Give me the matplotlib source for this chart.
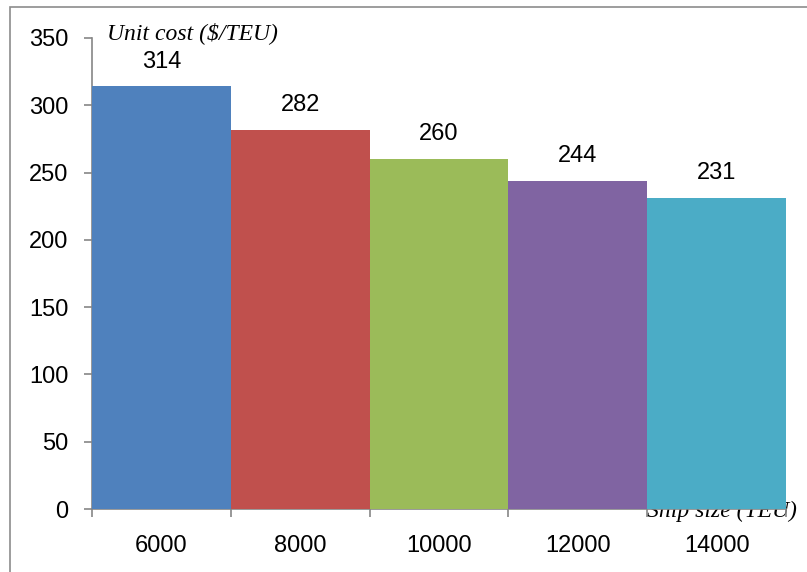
import matplotlib
matplotlib.use("Agg")
import matplotlib.pyplot as plt
from matplotlib.patches import Rectangle

categories = ["6000", "8000", "10000", "12000", "14000"]
values = [314, 282, 260, 244, 231]
colors = ["#4F81BD", "#C0504D", "#9BBB59", "#8064A2", "#4BACC6"]
yticks = [0, 50, 100, 150, 200, 250, 300, 350]

W, H = 807, 572
fig = plt.figure(figsize=(W / 100, H / 100), dpi=100)
plt.rcParams['font.family'] = ['Liberation Sans', 'DejaVu Sans']
FS = 17

# outer chart frame
fig.patches.append(Rectangle((10 / W, -0.1), 1.2, (H - 7) / H + 0.1, transform=fig.transFigure,
                             fill=False, edgecolor="#8C8C8C", linewidth=1.2))

ax = fig.add_axes([92 / W, (H - 509) / H, (786 - 92) / W, (509 - 38) / H])
ax.set_facecolor("none")
x = list(range(len(categories)))
ax.bar(x, values, width=1.0, color=colors, zorder=3)
ax.set_xlim(-0.5, len(categories) - 0.5)
ax.set_ylim(0, 350)

for xi, v in zip(x, values):
    ax.annotate(str(v), (xi, v), xytext=(0, 13.5), textcoords="offset points",
                ha="center", va="baseline", fontsize=FS, color="black", zorder=4)

ax.set_yticks(yticks)
ax.set_yticklabels([str(t) for t in yticks], fontsize=FS)
ax.set_xticks(x)
ax.set_xticklabels(categories, fontsize=FS)
ax.set_xticks([i - 0.5 for i in range(len(categories) + 1)], minor=True)
ax.tick_params(axis="x", which="major", length=0, pad=19)
ax.tick_params(axis="x", which="minor", length=6, color="#868686", width=1.2)
ax.tick_params(axis="y", length=6, color="#868686", width=1.2, pad=11)

for s in ["top", "right"]:
    ax.spines[s].set_visible(False)
for s in ["left", "bottom"]:
    ax.spines[s].set_color("#868686")
    ax.spines[s].set_linewidth(1.2)

fig.text(107 / W, (H - 39) / H, "Unit cost ($/TEU)", fontsize=FS, style="italic",
         family=["Liberation Serif", "DejaVu Serif"], ha="left", va="baseline")
ax.text(3.5, -5.9, "Ship size (TEU)", fontsize=FS, style="italic",
        family=["Liberation Serif", "DejaVu Serif"], ha="left", va="baseline", zorder=1,
        clip_on=False)

fig.savefig("out.png", dpi=100)
